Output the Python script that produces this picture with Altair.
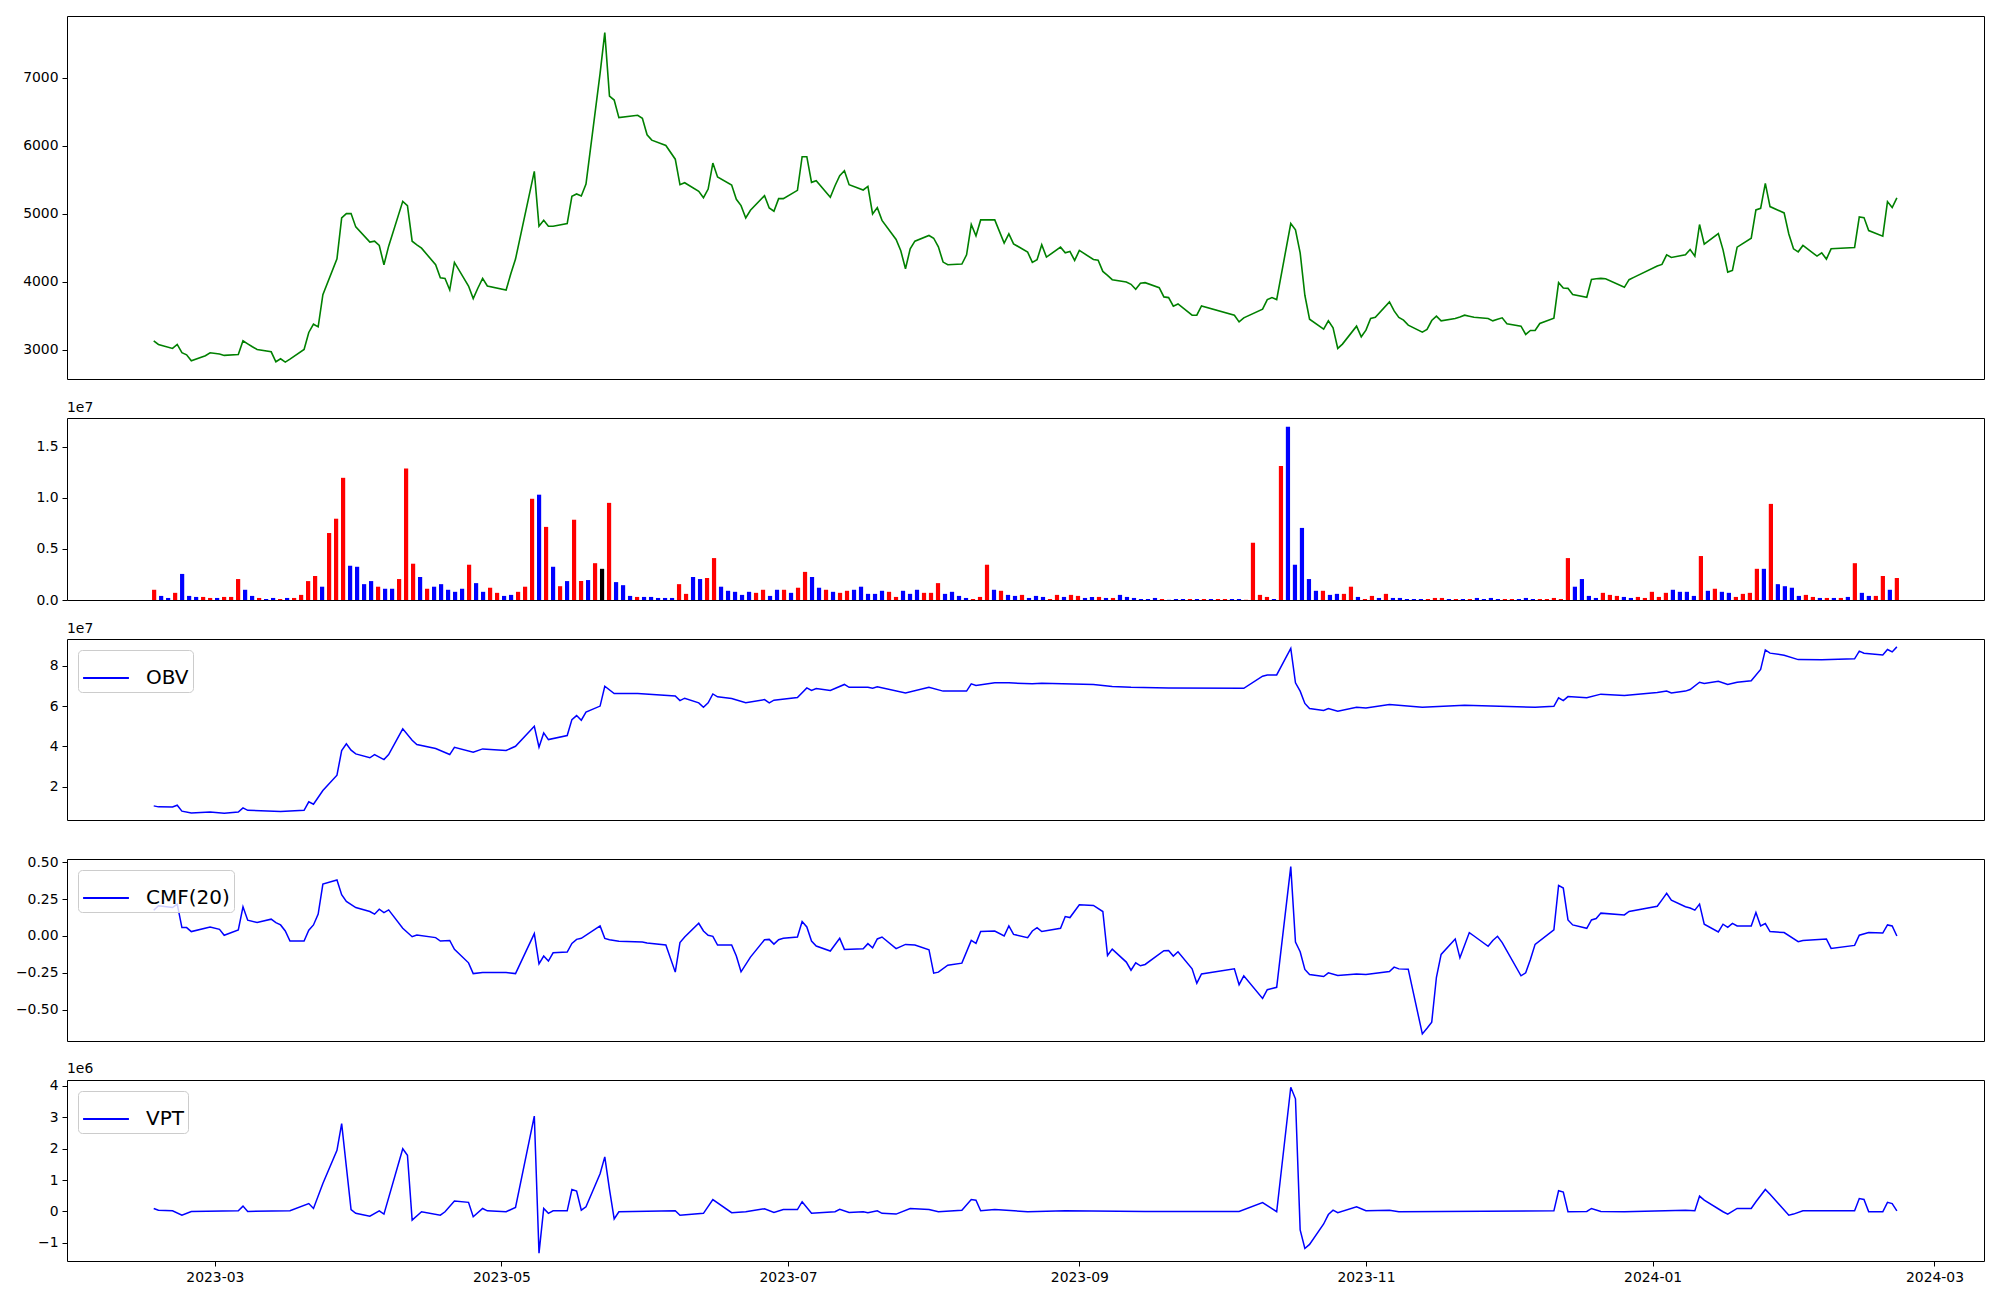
import altair as alt
import pandas as pd

# ---------------- calendar (KRX trading days) ----------------
HOLIDAYS = ["2023-03-01", "2023-05-01", "2023-05-05", "2023-05-29", "2023-06-06",
            "2023-08-15", "2023-09-28", "2023-09-29", "2023-10-02", "2023-10-03",
            "2023-10-09", "2023-12-25", "2023-12-29", "2024-01-01", "2024-02-09",
            "2024-02-12"]
_days = pd.bdate_range("2023-02-16", "2024-02-22")
_days = _days[~_days.isin(pd.to_datetime(HOLIDAYS))]
DATES = list(_days.strftime("%Y-%m-%d"))

# ---------------- close price ----------------
close = [
    3129, 3076, 3017, 3076, 2954, 2924, 2836, 2910, 2954, 2935,
    2915, 2929, 3129, 3085, 3042, 3002, 2968, 2822, 2866, 2817,
    2861, 3002, 3252, 3374, 3335, 3809, 4336, 4936, 5000, 5000,
    4804, 4580, 4594, 4531, 4248, 4521, 5180, 5117, 4594, 4541,
    4491, 4248, 4057, 4047, 3877, 4282, 3935, 3750, 3906, 4047,
    3935, 3877, 4116, 4331, 5620, 4814, 4902, 4814, 4814, 4853,
    5254, 5288, 5259, 5435, 7060, 7660, 6727, 6669, 6411, 6446,
    6402, 6158, 6080, 6001, 5800, 5425, 5454, 5327, 5234, 5361,
    5742, 5537, 5420, 5210, 5117, 4936, 5049, 5264, 5083, 5034,
    5220, 5220, 5342, 5836, 5836, 5459, 5484, 5239, 5410, 5557,
    5630, 5425, 5347, 5400, 4995, 5088, 4900, 4620, 4453, 4189,
    4482, 4594, 4678, 4638, 4511, 4287, 4248, 4258, 4394, 4839,
    4672, 4907, 4907, 4565, 4702, 4555, 4433, 4282, 4321, 4541,
    4360, 4506, 4423, 4443, 4311, 4458, 4326, 4316, 4150, 4092,
    4028, 3994, 3960, 3887, 3975, 3985, 3911, 3775, 3765, 3638,
    3672, 3506, 3506, 3643, 3506, 3408, 3467, 3594, 3736, 3765,
    3736, 4854, 4761, 4423, 3799, 3447, 3301, 3423, 3320, 3017,
    3081, 3345, 3188, 3286, 3457, 3477, 3701, 3569, 3472, 3433,
    3360, 3257, 3296, 3428, 3491, 3423, 3457, 3480, 3506, 3490,
    3475, 3457, 3423, 3445, 3467, 3379, 3345, 3223, 3281, 3281,
    3384, 3462, 3985, 3906, 3901, 3809, 3770, 4033, 4042, 4047,
    4042, 3916, 4028, 4062, 4228, 4252, 4394, 4355, 4394, 4472,
    4375, 4839, 4550, 4707, 4467, 4140, 4165, 4506, 4638, 5054,
    5078, 5445, 5103, 5010, 4700, 4482, 4438, 4531, 4375, 4423,
    4331, 4482, 4502, 4951, 4941, 4751, 4668, 5176, 5088, 5230,
]

# ---------------- volume (millions of shares) ----------------
volume_m = [
    1.0, 0.4, 0.2, 0.7, 2.55, 0.4, 0.3, 0.3, 0.2, 0.2,
    0.3, 0.3, 2.05, 1.0, 0.4, 0.2, 0.1, 0.2, 0.1, 0.2,
    0.2, 0.5, 1.85, 2.35, 1.3, 6.55, 7.95, 11.95, 3.35, 3.25,
    1.55, 1.85, 1.3, 1.1, 1.1, 2.05, 12.85, 3.55, 2.25, 1.1,
    1.3, 1.55, 1.0, 0.8, 1.1, 3.45, 1.65, 0.8, 1.2, 0.7,
    0.4, 0.5, 0.8, 1.3, 9.9, 10.3, 7.15, 3.25, 1.35, 1.85,
    7.85, 1.85, 1.95, 3.6, 3.05, 9.5, 1.75, 1.45, 0.4, 0.3,
    0.3, 0.3, 0.2, 0.2, 0.2, 1.55, 0.6, 2.25, 2.05, 2.15,
    4.1, 1.3, 0.9, 0.8, 0.5, 0.8, 0.7, 1.0, 0.4, 1.0,
    1.0, 0.7, 1.2, 2.75, 2.25, 1.2, 1.0, 0.8, 0.7, 0.9,
    1.0, 1.3, 0.6, 0.6, 0.9, 0.8, 0.3, 0.9, 0.6, 1.0,
    0.7, 0.7, 1.65, 0.6, 0.8, 0.4, 0.2, 0.1, 0.3, 3.45,
    1.0, 0.9, 0.5, 0.4, 0.5, 0.2, 0.4, 0.3, 0.1, 0.5,
    0.3, 0.5, 0.4, 0.2, 0.3, 0.3, 0.2, 0.2, 0.5, 0.3,
    0.2, 0.1, 0.1, 0.2, 0.1, 0.02, 0.1, 0.1, 0.1, 0.1,
    0.1, 0.1, 0.1, 0.1, 0.1, 0.1, 0.02, 5.6, 0.5, 0.3,
    0.1, 13.1, 16.95, 3.45, 7.05, 2.05, 0.9, 0.9, 0.5, 0.6,
    0.6, 1.3, 0.3, 0.1, 0.4, 0.2, 0.6, 0.2, 0.2, 0.1,
    0.1, 0.1, 0.1, 0.2, 0.2, 0.1, 0.1, 0.1, 0.1, 0.2,
    0.1, 0.2, 0.1, 0.1, 0.1, 0.1, 0.2, 0.1, 0.1, 0.1,
    0.2, 0.1, 4.1, 1.3, 2.05, 0.4, 0.2, 0.7, 0.5, 0.4,
    0.3, 0.2, 0.3, 0.2, 0.8, 0.3, 0.7, 1.0, 0.8, 0.8,
    0.4, 4.3, 0.9, 1.1, 0.8, 0.7, 0.3, 0.6, 0.7, 3.05,
    3.05, 9.4, 1.55, 1.35, 1.2, 0.4, 0.5, 0.3, 0.2, 0.2,
    0.2, 0.2, 0.3, 3.6, 0.7, 0.4, 0.4, 2.35, 1.0, 2.15,
]
# r = up candle, b = down candle, k = unchanged
vol_colors = ("rbbrbbbrrb" "rrrbbrbbrb" "rrrrbrrrbb" "bbrbbrrrbr" "bbbbbrbbrr"
              "bbrrrbrbrb" "rrbrkrbbbr" "bbbbbrrbbr" "rbbb"
              "bbrrbbrbrr" "bbrbrrbbbb" "brrbbbrrrb" "bbbrrrbrbb" "rbbbrrbrrb"
              "brbrbbbbbb" "rbbbrbrbrr" "bbrrrrbrbb" "bbb"
              "rbbrrbrrbr" "bbbbbrrrbr" "brbbbbrrbb" "brrrrrbbbb" "rrrbbrrrrr"
              "bbbbrbrbbr" "rrrbrbbbbr" "rbrbrbrbbr" "rbr")
COLOR_NAMES = {"r": "red", "b": "blue", "k": "black"}

# ---------------- OBV (x 1e7) ----------------
obv_points = [
    ("2023-02-16", 1.06), ("2023-02-17", 1.01), ("2023-02-20", 1.00), ("2023-02-21", 1.09),
    ("2023-02-22", 0.80), ("2023-02-24", 0.71), ("2023-02-28", 0.76), ("2023-03-03", 0.70),
    ("2023-03-06", 0.75), ("2023-03-07", 0.96), ("2023-03-08", 0.84), ("2023-03-15", 0.78),
    ("2023-03-20", 0.84), ("2023-03-21", 1.26), ("2023-03-22", 1.14), ("2023-03-24", 1.82),
    ("2023-03-27", 2.58), ("2023-03-28", 3.80), ("2023-03-29", 4.13), ("2023-03-30", 3.82),
    ("2023-03-31", 3.63), ("2023-04-03", 3.44), ("2023-04-04", 3.60), ("2023-04-06", 3.35),
    ("2023-04-07", 3.60), ("2023-04-10", 4.87), ("2023-04-12", 4.31), ("2023-04-13", 4.10),
    ("2023-04-17", 3.90), ("2023-04-20", 3.60), ("2023-04-21", 3.96), ("2023-04-25", 3.72),
    ("2023-04-27", 3.88), ("2023-05-02", 3.80), ("2023-05-04", 4.01), ("2023-05-08", 5.00),
    ("2023-05-09", 3.96), ("2023-05-10", 4.67), ("2023-05-11", 4.34), ("2023-05-15", 4.54),
    ("2023-05-16", 5.33), ("2023-05-17", 5.53), ("2023-05-18", 5.30), ("2023-05-19", 5.70),
    ("2023-05-22", 6.00), ("2023-05-23", 6.98), ("2023-05-25", 6.62), ("2023-05-30", 6.62),
    ("2023-06-07", 6.50), ("2023-06-08", 6.27), ("2023-06-09", 6.39), ("2023-06-12", 6.16),
    ("2023-06-13", 5.94), ("2023-06-14", 6.16), ("2023-06-15", 6.60), ("2023-06-16", 6.46),
    ("2023-06-19", 6.37), ("2023-06-22", 6.16), ("2023-06-26", 6.32), ("2023-06-27", 6.16),
    ("2023-06-28", 6.29), ("2023-07-03", 6.42), ("2023-07-05", 6.90), ("2023-07-06", 6.77),
    ("2023-07-07", 6.87), ("2023-07-10", 6.77), ("2023-07-13", 7.07), ("2023-07-14", 6.93),
    ("2023-07-18", 6.93), ("2023-07-19", 6.88), ("2023-07-20", 6.95), ("2023-07-26", 6.65),
    ("2023-07-31", 6.93), ("2023-08-03", 6.74), ("2023-08-08", 6.74), ("2023-08-09", 7.10),
    ("2023-08-10", 7.02), ("2023-08-14", 7.15), ("2023-08-17", 7.15), ("2023-08-22", 7.10),
    ("2023-08-24", 7.13), ("2023-09-04", 7.07), ("2023-09-08", 6.97), ("2023-09-12", 6.93),
    ("2023-09-20", 6.90), ("2023-10-06", 6.88), ("2023-10-10", 7.48), ("2023-10-11", 7.54),
    ("2023-10-13", 7.54), ("2023-10-16", 8.85), ("2023-10-17", 7.15), ("2023-10-18", 6.74),
    ("2023-10-19", 6.13), ("2023-10-20", 5.88), ("2023-10-23", 5.78), ("2023-10-24", 5.88),
    ("2023-10-26", 5.75), ("2023-10-30", 5.94), ("2023-11-01", 5.91), ("2023-11-06", 6.08),
    ("2023-11-13", 5.94), ("2023-11-22", 6.04), ("2023-12-07", 5.94), ("2023-12-11", 5.99),
    ("2023-12-12", 6.41), ("2023-12-13", 6.27), ("2023-12-14", 6.47), ("2023-12-18", 6.41),
    ("2023-12-21", 6.59), ("2023-12-26", 6.52), ("2024-01-02", 6.67), ("2024-01-04", 6.74),
    ("2024-01-05", 6.65), ("2024-01-08", 6.74), ("2024-01-09", 6.82), ("2024-01-11", 7.18),
    ("2024-01-12", 7.12), ("2024-01-15", 7.23), ("2024-01-17", 7.07), ("2024-01-19", 7.18),
    ("2024-01-22", 7.25), ("2024-01-24", 7.81), ("2024-01-25", 8.78), ("2024-01-26", 8.62),
    ("2024-01-29", 8.52), ("2024-02-01", 8.30), ("2024-02-06", 8.29), ("2024-02-13", 8.34),
    ("2024-02-14", 8.72), ("2024-02-15", 8.62), ("2024-02-19", 8.53), ("2024-02-20", 8.80),
    ("2024-02-21", 8.68), ("2024-02-22", 8.93),
]

# ---------------- CMF(20) ----------------
cmf_points = [
    ("2023-02-16", 0.175), ("2023-02-17", 0.205), ("2023-02-20", 0.193), ("2023-02-21", 0.216),
    ("2023-02-22", 0.057), ("2023-02-23", 0.057), ("2023-02-24", 0.030), ("2023-02-28", 0.061),
    ("2023-03-02", 0.045), ("2023-03-03", 0.005), ("2023-03-06", 0.041), ("2023-03-07", 0.198),
    ("2023-03-08", 0.107), ("2023-03-10", 0.091), ("2023-03-13", 0.114), ("2023-03-14", 0.091),
    ("2023-03-15", 0.075), ("2023-03-16", 0.034), ("2023-03-17", -0.034), ("2023-03-20", -0.034),
    ("2023-03-21", 0.039), ("2023-03-22", 0.075), ("2023-03-23", 0.148), ("2023-03-24", 0.352),
    ("2023-03-27", 0.380), ("2023-03-28", 0.280), ("2023-03-29", 0.234), ("2023-03-31", 0.193),
    ("2023-04-03", 0.166), ("2023-04-04", 0.148), ("2023-04-05", 0.182), ("2023-04-06", 0.159),
    ("2023-04-07", 0.177), ("2023-04-10", 0.052), ("2023-04-12", -0.005), ("2023-04-13", 0.007),
    ("2023-04-17", -0.011), ("2023-04-18", -0.034), ("2023-04-20", -0.030), ("2023-04-21", -0.091),
    ("2023-04-24", -0.182), ("2023-04-25", -0.255), ("2023-04-27", -0.248), ("2023-05-02", -0.248),
    ("2023-05-04", -0.255), ("2023-05-08", 0.016), ("2023-05-09", -0.189), ("2023-05-10", -0.136),
    ("2023-05-11", -0.170), ("2023-05-12", -0.114), ("2023-05-15", -0.109), ("2023-05-16", -0.050),
    ("2023-05-17", -0.023), ("2023-05-18", -0.016), ("2023-05-22", 0.068), ("2023-05-23", -0.016),
    ("2023-05-24", -0.025), ("2023-05-26", -0.036), ("2023-05-31", -0.041), ("2023-06-01", -0.048),
    ("2023-06-05", -0.061), ("2023-06-07", -0.245), ("2023-06-08", -0.045), ("2023-06-09", -0.007),
    ("2023-06-12", 0.086), ("2023-06-13", 0.034), ("2023-06-14", 0.005), ("2023-06-15", -0.002),
    ("2023-06-16", -0.061), ("2023-06-19", -0.061), ("2023-06-20", -0.136), ("2023-06-21", -0.243),
    ("2023-06-23", -0.143), ("2023-06-26", -0.025), ("2023-06-27", -0.023), ("2023-06-28", -0.055),
    ("2023-06-29", -0.025), ("2023-06-30", -0.016), ("2023-07-03", -0.007), ("2023-07-04", 0.098),
    ("2023-07-05", 0.061), ("2023-07-06", -0.034), ("2023-07-07", -0.068), ("2023-07-10", -0.102),
    ("2023-07-12", -0.016), ("2023-07-13", -0.091), ("2023-07-17", -0.086), ("2023-07-18", -0.052),
    ("2023-07-19", -0.080), ("2023-07-20", -0.020), ("2023-07-21", -0.007), ("2023-07-24", -0.086),
    ("2023-07-26", -0.057), ("2023-07-28", -0.061), ("2023-07-31", -0.093), ("2023-08-01", -0.252),
    ("2023-08-02", -0.245), ("2023-08-04", -0.198), ("2023-08-07", -0.184), ("2023-08-09", -0.030),
    ("2023-08-10", -0.050), ("2023-08-11", 0.030), ("2023-08-14", 0.034), ("2023-08-16", 0.000),
    ("2023-08-17", 0.068), ("2023-08-18", 0.011), ("2023-08-21", -0.011), ("2023-08-22", 0.034),
    ("2023-08-23", 0.057), ("2023-08-24", 0.030), ("2023-08-28", 0.052), ("2023-08-29", 0.132),
    ("2023-08-30", 0.125), ("2023-09-01", 0.211), ("2023-09-04", 0.207), ("2023-09-06", 0.166),
    ("2023-09-07", -0.132), ("2023-09-08", -0.089), ("2023-09-11", -0.177), ("2023-09-12", -0.232),
    ("2023-09-13", -0.182), ("2023-09-14", -0.202), ("2023-09-15", -0.193), ("2023-09-19", -0.100),
    ("2023-09-20", -0.098), ("2023-09-21", -0.136), ("2023-09-22", -0.107), ("2023-09-25", -0.223),
    ("2023-09-26", -0.320), ("2023-09-27", -0.257), ("2023-10-04", -0.223), ("2023-10-05", -0.330),
    ("2023-10-06", -0.270), ("2023-10-10", -0.423), ("2023-10-11", -0.364), ("2023-10-13", -0.348),
    ("2023-10-16", 0.470), ("2023-10-17", -0.041), ("2023-10-18", -0.107), ("2023-10-19", -0.227),
    ("2023-10-20", -0.261), ("2023-10-23", -0.275), ("2023-10-24", -0.250), ("2023-10-26", -0.268),
    ("2023-10-30", -0.257), ("2023-11-01", -0.261), ("2023-11-06", -0.241), ("2023-11-07", -0.211),
    ("2023-11-08", -0.223), ("2023-11-10", -0.225), ("2023-11-13", -0.664), ("2023-11-14", -0.625),
    ("2023-11-15", -0.584), ("2023-11-16", -0.280), ("2023-11-17", -0.125), ("2023-11-20", -0.020),
    ("2023-11-21", -0.148), ("2023-11-23", 0.023), ("2023-11-24", 0.000), ("2023-11-27", -0.070),
    ("2023-11-28", -0.030), ("2023-11-29", -0.002), ("2023-11-30", -0.045), ("2023-12-04", -0.270),
    ("2023-12-05", -0.250), ("2023-12-06", -0.159), ("2023-12-07", -0.057), ("2023-12-11", 0.041),
    ("2023-12-12", 0.343), ("2023-12-13", 0.325), ("2023-12-14", 0.109), ("2023-12-15", 0.075),
    ("2023-12-18", 0.052), ("2023-12-19", 0.109), ("2023-12-20", 0.118), ("2023-12-21", 0.155),
    ("2023-12-26", 0.143), ("2023-12-27", 0.166), ("2024-01-02", 0.202), ("2024-01-03", 0.245),
    ("2024-01-04", 0.289), ("2024-01-05", 0.243), ("2024-01-08", 0.198), ("2024-01-09", 0.190),
    ("2024-01-10", 0.175), ("2024-01-11", 0.216), ("2024-01-12", 0.080), ("2024-01-15", 0.027),
    ("2024-01-16", 0.080), ("2024-01-17", 0.059), ("2024-01-18", 0.086), ("2024-01-19", 0.068),
    ("2024-01-22", 0.068), ("2024-01-23", 0.159), ("2024-01-24", 0.068), ("2024-01-25", 0.084),
    ("2024-01-26", 0.030), ("2024-01-29", 0.023), ("2024-02-01", -0.039), ("2024-02-02", -0.030),
    ("2024-02-07", -0.020), ("2024-02-08", -0.084), ("2024-02-13", -0.064), ("2024-02-14", 0.005),
    ("2024-02-16", 0.023), ("2024-02-19", 0.020), ("2024-02-20", 0.075), ("2024-02-21", 0.068),
    ("2024-02-22", 0.000),
]

# ---------------- VPT (x 1e6) ----------------
vpt_points = [
    ("2023-02-16", 0.095), ("2023-02-17", 0.04), ("2023-02-20", 0.02), ("2023-02-22", -0.12),
    ("2023-02-24", 0.0), ("2023-03-06", 0.02), ("2023-03-07", 0.17), ("2023-03-08", 0.0),
    ("2023-03-17", 0.02), ("2023-03-21", 0.25), ("2023-03-22", 0.095), ("2023-03-24", 0.89),
    ("2023-03-27", 1.95), ("2023-03-28", 2.80), ("2023-03-29", 1.42), ("2023-03-30", 0.06),
    ("2023-03-31", -0.06), ("2023-04-03", -0.15), ("2023-04-05", 0.02), ("2023-04-06", -0.085),
    ("2023-04-10", 2.0), ("2023-04-11", 1.79), ("2023-04-12", -0.275), ("2023-04-14", -0.01),
    ("2023-04-18", -0.12), ("2023-04-19", -0.01), ("2023-04-21", 0.33), ("2023-04-24", 0.29),
    ("2023-04-25", -0.17), ("2023-04-27", 0.095), ("2023-04-28", 0.02), ("2023-05-02", -0.01),
    ("2023-05-04", 0.13), ("2023-05-08", 3.04), ("2023-05-09", -1.33), ("2023-05-10", 0.095),
    ("2023-05-11", -0.06), ("2023-05-12", 0.02), ("2023-05-15", 0.02), ("2023-05-16", 0.70),
    ("2023-05-17", 0.65), ("2023-05-18", 0.04), ("2023-05-19", 0.15), ("2023-05-22", 1.2),
    ("2023-05-23", 1.74), ("2023-05-24", 0.7), ("2023-05-25", -0.24), ("2023-05-26", -0.01),
    ("2023-06-07", 0.02), ("2023-06-08", -0.12), ("2023-06-13", -0.06), ("2023-06-15", 0.38),
    ("2023-06-19", -0.04), ("2023-06-22", -0.01), ("2023-06-26", 0.085), ("2023-06-28", -0.03),
    ("2023-06-30", 0.06), ("2023-07-03", 0.06), ("2023-07-04", 0.31), ("2023-07-06", -0.06),
    ("2023-07-11", -0.01), ("2023-07-12", 0.07), ("2023-07-14", -0.03), ("2023-07-17", -0.01),
    ("2023-07-18", -0.04), ("2023-07-20", 0.02), ("2023-07-21", -0.06), ("2023-07-24", -0.085),
    ("2023-07-27", 0.095), ("2023-07-31", 0.06), ("2023-08-02", -0.01), ("2023-08-07", 0.04),
    ("2023-08-09", 0.38), ("2023-08-10", 0.36), ("2023-08-11", 0.02), ("2023-08-14", 0.06),
    ("2023-08-21", -0.01), ("2023-08-29", 0.02), ("2023-09-15", 0.0), ("2023-10-05", 0.0),
    ("2023-10-10", 0.28), ("2023-10-13", -0.01), ("2023-10-16", 3.96), ("2023-10-17", 3.59),
    ("2023-10-18", -0.59), ("2023-10-19", -1.18), ("2023-10-20", -1.05), ("2023-10-23", -0.4),
    ("2023-10-24", -0.1), ("2023-10-25", 0.04), ("2023-10-26", -0.04), ("2023-10-30", 0.15),
    ("2023-11-01", 0.02), ("2023-11-06", 0.04), ("2023-11-08", -0.01), ("2023-12-11", 0.02),
    ("2023-12-12", 0.66), ("2023-12-13", 0.62), ("2023-12-14", -0.01), ("2023-12-18", 0.0),
    ("2023-12-19", 0.095), ("2023-12-21", 0.0), ("2023-12-26", -0.01), ("2024-01-08", 0.04),
    ("2024-01-10", 0.02), ("2024-01-11", 0.49), ("2024-01-12", 0.36), ("2024-01-16", -0.01),
    ("2024-01-17", -0.085), ("2024-01-19", 0.095), ("2024-01-22", 0.095), ("2024-01-23", 0.31),
    ("2024-01-25", 0.70), ("2024-01-26", 0.55), ("2024-01-30", -0.12), ("2024-01-31", -0.085),
    ("2024-02-02", 0.02), ("2024-02-13", 0.02), ("2024-02-14", 0.41), ("2024-02-15", 0.38),
    ("2024-02-16", -0.01), ("2024-02-19", -0.01), ("2024-02-20", 0.29), ("2024-02-21", 0.25),
    ("2024-02-22", 0.02),
]

# ---------------- tables ----------------
n = min(len(DATES), len(close))
df_price = pd.DataFrame({"date": DATES[:n], "close": close[:n]})
m = min(len(volume_m), len(vol_colors))
df_vol = pd.DataFrame({
    "i": list(range(m)),
    "v": [x / 10.0 for x in volume_m[:m]],          # in units of 1e7
    "c": [COLOR_NAMES[ch] for ch in vol_colors[:m]],
})
df_obv = pd.DataFrame(obv_points, columns=["date", "v"]).assign(name="OBV")
df_cmf = pd.DataFrame(cmf_points, columns=["date", "v"]).assign(name="CMF(20)")
df_vpt = pd.DataFrame(vpt_points, columns=["date", "v"]).assign(name="VPT")

# ---------------- styling helpers ----------------
FONT = "DejaVu Sans"
W = 1917


def ms(s):
    return int(pd.Timestamp(s, tz="UTC").value // 10**6)


X_DOMAIN = [ms("2023-01-28 13:00"), ms("2024-03-11 13:00")]
X_TICKS = [ms(s) for s in ["2023-03-01", "2023-05-01", "2023-07-01", "2023-09-01",
                           "2023-11-01", "2024-01-01", "2024-03-01"]]
xscale = alt.Scale(type="utc", domain=X_DOMAIN, nice=False)


def yax(values, fmt):
    return alt.Axis(values=values, format=fmt, title=None, grid=False, domain=False,
                    ticks=True, tickSize=5, tickColor="black", tickWidth=1,
                    labelColor="black", labelFontSize=13.9, labelFont=FONT,
                    labelPadding=4, minExtent=52, maxExtent=52)


def yscale(lo, hi):
    return alt.Scale(domain=[lo, hi], nice=False, zero=False)


def exp_title(txt):
    return alt.TitleParams(txt, anchor="start", frame="group", fontSize=13.9,
                           fontWeight="normal", font=FONT, color="black", offset=3)


def legend():
    return alt.Legend(title=None, orient="top-left", offset=11, padding=4,
                      fillColor="rgba(255,255,255,0.8)", strokeColor="#cccccc",
                      cornerRadius=4, labelFontSize=20, labelFont=FONT,
                      labelColor="black", symbolType="stroke", symbolSize=2100,
                      symbolStrokeWidth=1.8, labelOffset=16,
                      labelExpr="datum.label + '\u00a0\u00a0'")


def line_color(name):
    return alt.Color("name:N", scale=alt.Scale(domain=[name], range=["blue"]),
                     legend=legend())


price = alt.Chart(df_price).mark_line(color="green", strokeWidth=1.6).encode(
    x=alt.X("date:T", scale=xscale, axis=None),
    y=alt.Y("close:Q", scale=yscale(2568, 7905),
            axis=yax([3000, 4000, 5000, 6000, 7000], "d")),
).properties(width=W, height=363)

vol = alt.Chart(df_vol).transform_calculate(
    x0="datum.i - 0.3", x1="datum.i + 0.3"
).mark_bar().encode(
    x=alt.X("x0:Q", scale=alt.Scale(domain=[-12.45, 261.45], nice=False, zero=False), axis=None),
    x2="x1:Q",
    y=alt.Y("v:Q", scale=yscale(0, 1.78), axis=yax([0, 0.5, 1.0, 1.5], ".1f")),
    y2=alt.datum(0),
    color=alt.Color("c:N", scale=None),
).properties(width=W, height=182, title=exp_title("1e7"))

obv = alt.Chart(df_obv).mark_line(strokeWidth=1.5).encode(
    x=alt.X("date:T", scale=xscale, axis=None),
    y=alt.Y("v:Q", scale=yscale(0.36, 9.32), axis=yax([2, 4, 6, 8], "d")),
    color=line_color("OBV"),
).properties(width=W, height=181, title=exp_title("1e7"))

cmf = alt.Chart(df_cmf).mark_line(strokeWidth=1.5).encode(
    x=alt.X("date:T", scale=xscale, axis=None),
    y=alt.Y("v:Q", scale=yscale(-0.712, 0.522),
            axis=yax([-0.5, -0.25, 0.0, 0.25, 0.5], ".2f")),
    color=line_color("CMF(20)"),
).properties(width=W, height=182)

vpt = alt.Chart(df_vpt).mark_line(strokeWidth=1.5).encode(
    x=alt.X("date:T", scale=xscale,
            axis=alt.Axis(values=X_TICKS, labelExpr="utcFormat(datum.value, '%Y-%m')",
                          title=None, grid=False, domain=False, tickSize=5,
                          tickColor="black", labelColor="black", labelFontSize=13.9,
                          labelFont=FONT, labelPadding=4, labelFlush=False)),
    y=alt.Y("v:Q", scale=yscale(-1.58, 4.19), axis=yax([-1, 0, 1, 2, 3, 4], "d")),
    color=line_color("VPT"),
).properties(width=W, height=181, title=exp_title("1e6"))

chart = alt.vconcat(price, vol, obv, cmf, vpt, spacing=39, bounds="flush").resolve_scale(
    x="independent", y="independent", color="independent"
).resolve_legend(color="independent").configure_view(
    stroke="black", strokeWidth=1
).properties(
    padding={"left": 6, "top": 7, "right": 7, "bottom": 5},
    background="white",
)

chart.save("out.html", embed_options={"renderer": "svg", "actions": False})
